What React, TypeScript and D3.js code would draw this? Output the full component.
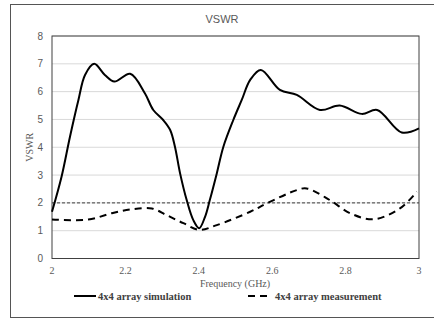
import React from 'react';
import * as d3 from 'd3';

const simFreq = [2.0, 2.026, 2.049, 2.072, 2.09, 2.115, 2.144, 2.17, 2.213, 2.253, 2.276, 2.303, 2.322, 2.335, 2.349, 2.367, 2.385, 2.401, 2.417, 2.43, 2.449, 2.467, 2.494, 2.517, 2.54, 2.569, 2.621, 2.667, 2.73, 2.784, 2.844, 2.886, 2.953, 3.0];
const simVswr = [1.68, 2.94, 4.38, 5.7, 6.6, 7.0, 6.6, 6.36, 6.64, 5.94, 5.34, 4.98, 4.62, 4.02, 3.06, 2.1, 1.38, 1.09, 1.5, 2.1, 3.06, 4.02, 4.98, 5.7, 6.42, 6.78, 6.06, 5.88, 5.34, 5.5, 5.2, 5.34, 4.53, 4.68];
const measFreq = [2.0, 2.099, 2.163, 2.217, 2.272, 2.312, 2.358, 2.401, 2.449, 2.54, 2.585, 2.667, 2.694, 2.757, 2.812, 2.876, 2.948, 2.994];
const measVswr = [1.4, 1.4, 1.63, 1.77, 1.8, 1.56, 1.27, 1.03, 1.2, 1.68, 1.98, 2.46, 2.52, 2.1, 1.63, 1.41, 1.8, 2.4];
const limitVswr = 2;
const xTicks = [2, 2.2, 2.4, 2.6, 2.8, 3];
const yTicks = [0, 1, 2, 3, 4, 5, 6, 7, 8];
const seriesNames = ['4x4 array simulation', '4x4 array measurement'];

export default function App() {
  const left = 52, right = 419, top = 36, bottom = 258.5;
  const x = d3.scaleLinear().domain([2, 3]).range([left, right]);
  const y = d3.scaleLinear().domain([0, 8]).range([bottom, top]);
  const line = d3.line<[number, number]>().x(d => x(d[0])).y(d => y(d[1])).curve(d3.curveCatmullRom.alpha(0.5));
  const simPts = simFreq.map((f, i) => [f, simVswr[i]] as [number, number]);
  const measPts = measFreq.map((f, i) => [f, measVswr[i]] as [number, number]);
  const sans = '"Liberation Sans", Arial, sans-serif';
  const serif = '"Liberation Serif", "Times New Roman", serif';
  return (
    <svg width={434} height={319} style={{ position: 'absolute', left: 0, top: 0, background: '#fff' }}>
      <rect x={10.5} y={4.5} width={430} height={313} fill="#fff" stroke="#555" strokeWidth={1} />
      <text x={222} y={23} textAnchor="middle" fontFamily={sans} fontSize={11} fill="#595959">VSWR</text>
      {yTicks.map(t => (
        <g key={t}>
          <line x1={left} x2={right} y1={y(t)} y2={y(t)} stroke="#d9d9d9" strokeWidth={1} />
          <text x={43} y={y(t) + 3.5} textAnchor="end" fontFamily={sans} fontSize={10} fill="#595959">{t}</text>
        </g>
      ))}
      <rect x={left} y={top} width={right - left} height={bottom - top} fill="none" stroke="#404040" strokeWidth={1} />
      {xTicks.map(t => (
        <text key={t} x={x(t)} y={274} textAnchor="middle" fontFamily={serif} fontSize={10} fill="#595959">{t}</text>
      ))}
      <text x={235} y={287} textAnchor="middle" fontFamily={serif} fontSize={10} fill="#595959">Frequency (GHz)</text>
      <text transform={`translate(33,${(top + bottom) / 2}) rotate(-90)`} textAnchor="middle" fontFamily={serif} fontSize={10} fill="#595959">VSWR</text>
      <line x1={left} x2={right} y1={y(limitVswr)} y2={y(limitVswr)} stroke="#404040" strokeWidth={1} strokeDasharray="3,2" />
      <path d={line(measPts) || ''} fill="none" stroke="#000" strokeWidth={2} strokeDasharray="7,5" />
      <path d={line(simPts) || ''} fill="none" stroke="#000" strokeWidth={2} />
      <line x1={74} x2={96} y1={296} y2={296} stroke="#000" strokeWidth={2} />
      <text x={98} y={299.5} fontFamily={serif} fontSize={10.5} fontWeight="bold" fill="#404040">{seriesNames[0]}</text>
      <line x1={248} x2={272} y1={296} y2={296} stroke="#000" strokeWidth={2} strokeDasharray="7,5" />
      <text x={275} y={299.5} fontFamily={serif} fontSize={10.5} fontWeight="bold" fill="#404040">{seriesNames[1]}</text>
    </svg>
  );
}
